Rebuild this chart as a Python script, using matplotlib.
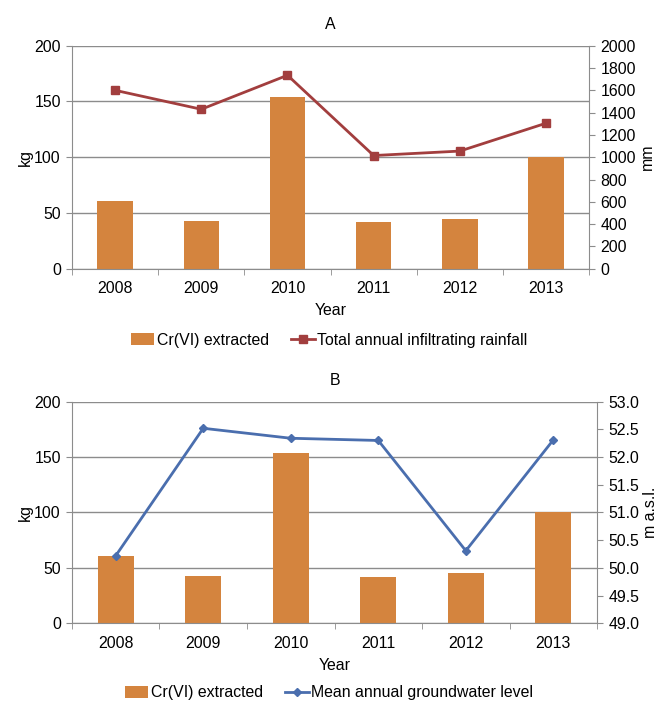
import numpy as np
import matplotlib.pyplot as plt
from matplotlib.ticker import MultipleLocator, FixedLocator

plt.rcParams['font.family'] = ['Liberation Sans', 'DejaVu Sans']
plt.rcParams['font.size'] = 11.4

years = ['2008', '2009', '2010', '2011', '2012', '2013']
cr_extracted = [61, 43, 154, 42, 45, 100]
rainfall = [1600, 1430, 1735, 1015, 1055, 1305]
gw_level = [50.22, 52.52, 52.34, 52.30, 50.31, 52.31]

bar_color = '#D4843E'
grid_color = '#8c8c8c'
x = np.arange(len(years))

fig = plt.figure(figsize=(6.58, 7.02), dpi=100)


def panel(rect, line_vals, line_color, marker, msize, ylim2, step2, fmt2, ylabel2, line_label, title, leg_y):
    ax = fig.add_axes(rect)
    ax.bar(x, cr_extracted, width=0.41, color=bar_color, zorder=2, label='Cr(VI) extracted')
    ax.set_xlim(-0.5, 5.5)
    ax.set_ylim(0, 200)
    ax.yaxis.set_major_locator(MultipleLocator(50))
    ax.grid(axis='y', color=grid_color, lw=1, zorder=0)
    ax.set_axisbelow(True)
    ax.set_xticks(x)
    ax.set_xticklabels(years)
    ax.xaxis.set_minor_locator(FixedLocator(np.arange(-0.5, 6, 1)))
    ax.tick_params(axis='x', which='major', length=0, pad=9)
    ax.tick_params(axis='x', which='minor', length=4, color=grid_color)
    ax.tick_params(axis='y', length=4, color=grid_color, pad=4)
    for s in ['top', 'right']:
        ax.spines[s].set_visible(False)
    for s in ['left', 'bottom']:
        ax.spines[s].set_color(grid_color)
    ax.set_ylabel('kg', labelpad=1)
    ax.set_xlabel('Year', labelpad=5)
    ax.set_title(title, fontsize=11.4, pad=12)

    ax2 = ax.twinx()
    ax2.plot(x, line_vals, color=line_color, lw=2, marker=marker, ms=msize, zorder=3,
             label=line_label)
    ax2.set_ylim(*ylim2)
    ax2.yaxis.set_major_locator(MultipleLocator(step2))
    ax2.yaxis.set_major_formatter(fmt2)
    ax2.tick_params(axis='y', length=4, color=grid_color, pad=4)
    for s in ['top', 'left', 'bottom']:
        ax2.spines[s].set_visible(False)
    ax2.spines['right'].set_color(grid_color)
    ax2.set_ylabel(ylabel2, labelpad=3)

    h1, l1 = ax.get_legend_handles_labels()
    h2, l2 = ax2.get_legend_handles_labels()
    fig.legend(h1 + h2, l1 + l2, loc='center', bbox_to_anchor=(0.5, leg_y), ncol=2,
               frameon=False, handlelength=1.5, handletextpad=0.15, columnspacing=1.4,
               fontsize=11.4)
    return ax, ax2


panel([0.1094, 0.6172, 0.786, 0.3177], rainfall, '#A23E3E', 's', 6,
      (0, 2000), 200, '{x:.0f}', 'mm', 'Total annual infiltrating rainfall', 'A', 1 - 340 / 702)
panel([0.1094, 0.1121, 0.798, 0.3157], gw_level, '#4A6EAE', 'D', 4,
      (49, 53), 0.5, '{x:.1f}', 'm a.s.l.', 'Mean annual groundwater level', 'B', 1 - 693 / 702)

fig.savefig('out.png', dpi=100)
